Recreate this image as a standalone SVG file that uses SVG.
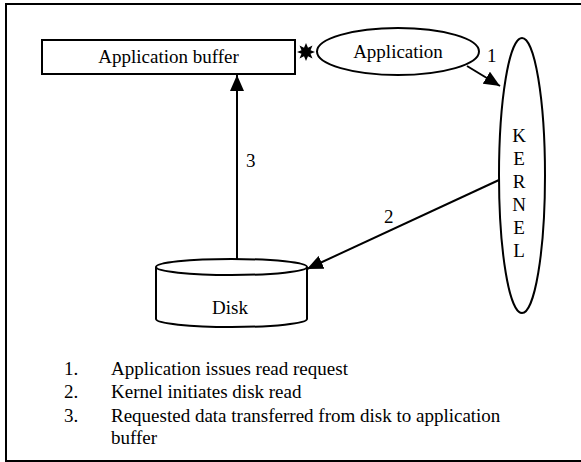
<svg xmlns="http://www.w3.org/2000/svg" width="581" height="462" viewBox="0 0 581 462">
<style>
.t{font-family:"Liberation Serif","Times New Roman",serif;font-size:19px;fill:#000}
.s{fill:none;stroke:#000;stroke-width:2}
.n{fill:#fff;stroke:#000;stroke-width:2}
</style>
<defs>
<marker id="ah2" markerWidth="16" markerHeight="14" viewBox="0 0 16 14" refX="16" refY="7" orient="auto" markerUnits="userSpaceOnUse">
<path d="M0,0 L16,7 L0,14 z" fill="#000"/>
</marker>
</defs>
<rect x="6" y="4" width="580" height="457" fill="#fff" stroke="#000" stroke-width="2"/>
<g id="connectors">
<line class="s" x1="237" y1="259" x2="237" y2="75" marker-end="url(#ah2)"/>
<line class="s" x1="467" y1="66" x2="500" y2="86" marker-end="url(#ah2)"/>
<line class="s" x1="499" y1="180" x2="307" y2="269" marker-end="url(#ah2)"/>
<polygon id="star" fill="#000" points="315,52 310.5,53.8 312.5,58.5 308,56.3 306,61 304,56.3 299.5,58.5 301.5,53.8 297,52 301.5,50.2 299.5,45.5 304,47.7 306,43 308,47.7 312.5,45.5 310.5,50.2"/>
<text class="t" x="487" y="62">1</text>
<text class="t" x="384" y="223">2</text>
<text class="t" x="246" y="167">3</text>
</g>
<g id="appbuffer">
<rect class="n" x="42" y="40" width="253" height="34"/>
<text class="t" x="168.5" y="63" text-anchor="middle">Application buffer</text>
</g>
<g id="application">
<ellipse class="n" cx="398" cy="51.5" rx="81" ry="23.5"/>
<text class="t" x="398" y="58" text-anchor="middle">Application</text>
</g>
<g id="kernel">
<ellipse class="n" cx="522" cy="175.5" rx="23" ry="137.5"/>
<text class="t" text-anchor="middle" x="519" y="142">K</text>
<text class="t" text-anchor="middle" x="519" y="165">E</text>
<text class="t" text-anchor="middle" x="519" y="188">R</text>
<text class="t" text-anchor="middle" x="519" y="211">N</text>
<text class="t" text-anchor="middle" x="519" y="234">E</text>
<text class="t" text-anchor="middle" x="519" y="257">L</text>
</g>
<g id="disk">
<path class="n" d="M156,267 L156,319 A75.5,8 0 0 0 307,319 L307,267"/>
<ellipse class="n" cx="231.5" cy="267" rx="75.5" ry="8"/>
<text class="t" x="230" y="314" text-anchor="middle">Disk</text>
</g>
<g id="legend">
<text class="t" x="64" y="375">1.</text>
<text class="t" x="111" y="375">Application issues read request</text>
<text class="t" x="64" y="398">2.</text>
<text class="t" x="111" y="398">Kernel initiates disk read</text>
<text class="t" x="64" y="422">3.</text>
<text class="t" x="111" y="422">Requested data transferred from disk to application</text>
<text class="t" x="111" y="444">buffer</text>
</g>
</svg>
